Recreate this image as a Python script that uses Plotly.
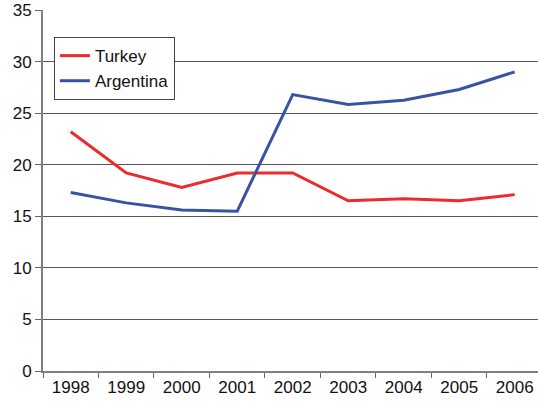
import plotly.graph_objects as go

years = ["1998", "1999", "2000", "2001", "2002", "2003", "2004", "2005", "2006"]
turkey = [23.2, 19.2, 17.8, 19.2, 19.2, 16.5, 16.7, 16.5, 17.1]
argentina = [17.3, 16.3, 15.6, 15.5, 26.8, 25.85, 26.25, 27.3, 29.0]

fig = go.Figure()
fig.add_trace(go.Scatter(x=years, y=turkey, mode="lines", name="Turkey",
                         line=dict(color="#EE2A2C", width=3)))
fig.add_trace(go.Scatter(x=years, y=argentina, mode="lines", name="Argentina",
                         line=dict(color="#3A52A2", width=3)))

font = dict(family="Liberation Sans, Arial, sans-serif", size=17, color="#111111")

fig.update_layout(
    width=538, height=406,
    margin=dict(l=43, r=0, t=10, b=35),
    paper_bgcolor="white", plot_bgcolor="white",
    font=font,
    showlegend=True,
    legend=dict(x=0.022, y=0.925, xanchor="left", yanchor="top",
                bgcolor="white", bordercolor="#444444", borderwidth=1,
                font=font, tracegroupgap=0),
    xaxis=dict(type="category", range=[-0.5, 8.42], tickson="boundaries",
               ticks="outside", ticklen=5, tickcolor="#666666", tickwidth=1,
               showline=True, linecolor="#808080", linewidth=2,
               showgrid=False, zeroline=False, tickfont=font),
    yaxis=dict(range=[0, 35], tickvals=[0, 5, 10, 15, 20, 25, 30, 35],
               ticks="outside", ticklen=6, tickcolor="#666666", tickwidth=1,
               showline=True, linecolor="#808080", linewidth=2,
               showgrid=True, gridcolor="#555555", gridwidth=1,
               zeroline=False, tickfont=font),
)

fig.write_html("out.html")
